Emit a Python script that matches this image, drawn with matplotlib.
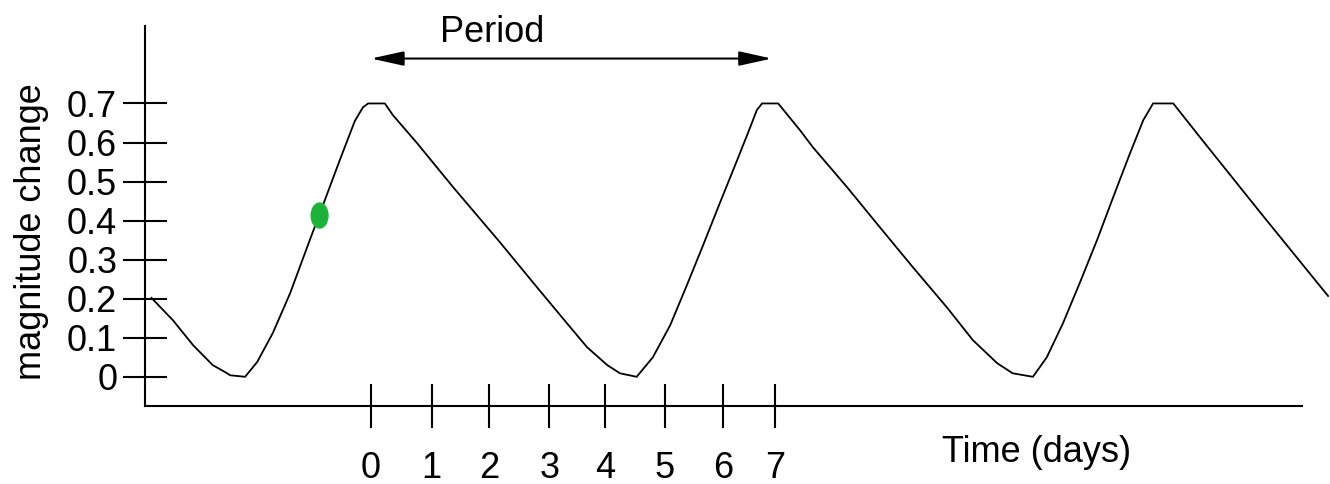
import numpy as np
import matplotlib.pyplot as plt
from matplotlib.patches import Ellipse

plt.rcParams['font.family'] = ['Liberation Sans', 'DejaVu Sans']

# light curve (time in days, magnitude change)
t = [-3.80, -3.43, -3.08, -2.74, -2.49, -2.44, -2.18, -1.97, -1.70, -1.40,
     -1.06, -0.80, -0.54, -0.28, -0.14, -0.05, 0.24, 0.38, 0.80, 1.42,
     2.23, 2.87, 3.45, 3.74, 4.09, 4.31, 4.60, 4.88, 5.18, 5.47,
     5.75, 6.04, 6.34, 6.56, 6.68, 6.77, 7.05, 7.43, 7.65, 8.24,
     8.81, 9.38, 9.97, 10.42, 10.84, 11.11, 11.46, 11.70, 11.98, 12.27,
     12.57, 12.85, 13.14, 13.37, 13.54, 13.89, 14.35, 15.39, 16.57]
mag = [0.202, 0.145, 0.081, 0.030, 0.009, 0.004, 0.0, 0.038, 0.112, 0.214,
       0.350, 0.452, 0.555, 0.655, 0.690, 0.700, 0.700, 0.670, 0.598, 0.486,
       0.345, 0.230, 0.127, 0.076, 0.030, 0.009, 0.0, 0.050, 0.132, 0.235,
       0.337, 0.445, 0.555, 0.637, 0.683, 0.700, 0.700, 0.631, 0.588, 0.486,
       0.383, 0.281, 0.178, 0.094, 0.035, 0.009, 0.0, 0.050, 0.137, 0.240,
       0.350, 0.460, 0.572, 0.657, 0.700, 0.700, 0.614, 0.422, 0.207]

# green observation point
dot_t = -0.89
dot_mag = 0.413

# period arrow (days)
period_start = 0.0
period_end = 6.94

ytick_vals = [0, 0.1, 0.2, 0.3, 0.4, 0.5, 0.6, 0.7]
ytick_labels = ["0", "0.1", "0.2", "0.3", "0.4", "0.5", "0.6", "0.7"]
xtick_pos = [0, 1.05, 2.04, 3.09, 4.05, 5.09, 6.09, 7.0]
xtick_labels = ["0", "1", "2", "3", "4", "5", "6", "7"]

fig = plt.figure(figsize=(13.3, 4.84), dpi=100)
ax = fig.add_axes([0.109, 0.162, 0.8697, 0.784])

ax.plot(t, mag, color="black", lw=1.3, clip_on=False)
ax.add_patch(Ellipse((dot_t, dot_mag), 0.29, 0.064, color="#1db33b", zorder=3))

ax.set_xlim(-3.913, 16.113)
ax.set_ylim(-0.0737, 0.898)

for s in ["top", "right"]:
    ax.spines[s].set_visible(False)
for s in ["left", "bottom"]:
    ax.spines[s].set_linewidth(1.5)

ax.set_yticks(ytick_vals)
ax.set_yticklabels(ytick_labels)
ax.set_xticks(xtick_pos)
ax.set_xticklabels(xtick_labels)
ax.tick_params(axis="y", direction="inout", length=32, width=1.5, pad=4, labelsize=26)
ax.tick_params(axis="x", direction="inout", length=32, width=1.5, pad=17, labelsize=26)

ax.annotate("", xy=(period_end, 0.815), xytext=(period_start, 0.815),
            arrowprops=dict(arrowstyle="<|-|>,head_length=1.0,head_width=0.22",
                            lw=1.5, color="black", shrinkA=0, shrinkB=0,
                            mutation_scale=20),
            annotation_clip=False)
ax.text(1.19, 0.857, "Period", fontsize=26, ha="left", va="baseline", clip_on=False)
ax.text(9.89, -0.2176, "Time (days)", fontsize=26, ha="left", va="baseline", clip_on=False)

fig.text(0.024, 0.521, "magnitude change", rotation=90, fontsize=26,
         ha="center", va="center")

fig.savefig("out.png", dpi=100)
